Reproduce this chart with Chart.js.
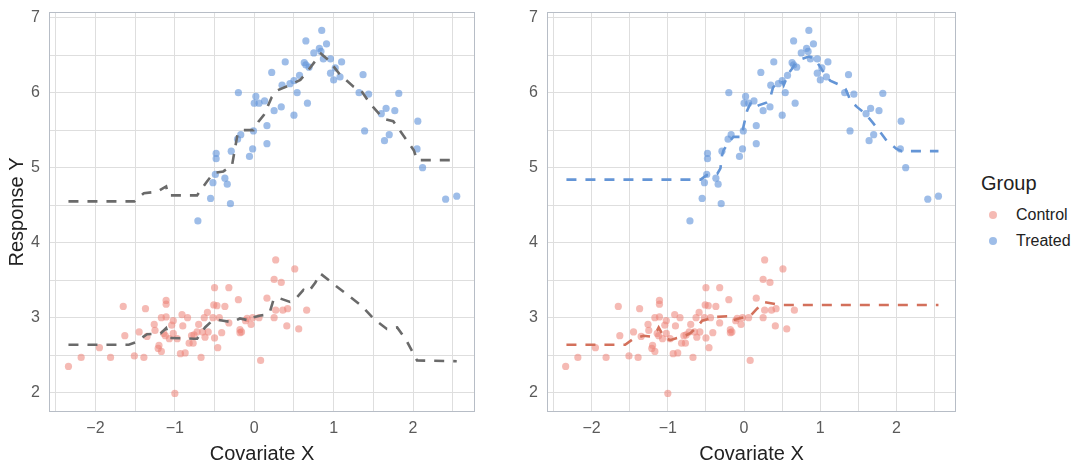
<!DOCTYPE html>
<html>
<head>
<meta charset="utf-8">
<script src="https://cdn.jsdelivr.net/npm/chart.js@4.4.1/dist/chart.umd.min.js"></script>
<style>
body{margin:0;background:#fff;width:1080px;height:466px;position:relative;overflow:hidden;font-family:"Liberation Sans",Arial,sans-serif}
canvas{position:absolute;top:0}
#leftChart{left:0}
#rightChart{left:480px}
#legend{position:absolute;left:981px;top:170px;color:#222}
#legend .ttl{font-size:20px;line-height:26px;margin-bottom:6px}
#legend .row{font-size:16px;height:26px;line-height:26px;position:relative;padding-left:35px}
#legend .dot{position:absolute;left:8px;top:9px;width:8px;height:8px;border-radius:50%}
</style>
</head>
<body>
<canvas id="leftChart" width="480" height="466"></canvas>
<canvas id="rightChart" width="480" height="466"></canvas>
<div id="legend"></div>
<script>
// observed points
const ctrlX=[-2.34,-2.18,-1.95,-1.81,-1.65,-1.63,-1.51,-1.45,-1.39,-1.37,-1.35,-1.26,-1.25,-1.21,-1.20,-1.17,-1.17,-1.14,-1.12,-1.11,-1.11,-1.11,-1.07,-1.04,-1.02,-1.02,-1.00,-0.97,-0.93,-0.91,-0.90,-0.87,-0.84,-0.82,-0.79,-0.77,-0.76,-0.72,-0.70,-0.67,-0.65,-0.63,-0.62,-0.59,-0.58,-0.52,-0.51,-0.50,-0.50,-0.47,-0.46,-0.44,-0.41,-0.37,-0.32,-0.32,-0.20,-0.18,-0.18,-0.16,-0.11,-0.09,-0.04,-0.02,0.06,0.08,0.16,0.25,0.25,0.27,0.27,0.34,0.36,0.42,0.41,0.51,0.56,0.66];
const ctrlY=[2.35,2.47,2.60,2.47,3.15,2.76,2.49,2.81,2.47,3.12,2.75,2.91,2.83,2.59,2.63,3.00,2.55,2.79,2.76,3.01,3.18,3.23,2.72,2.90,2.96,2.79,1.99,2.72,2.52,3.04,2.89,2.53,3.00,2.66,2.76,2.66,2.77,2.81,2.91,2.47,2.81,3.00,2.74,3.07,2.81,3.00,3.17,3.40,2.73,3.16,2.60,3.00,2.80,3.15,2.93,3.40,3.24,2.84,2.80,2.81,2.96,2.99,2.91,3.00,3.00,2.43,3.26,3.51,3.00,3.77,3.10,3.47,3.10,3.12,2.89,3.65,2.85,3.10];
const treatX=[-0.71,-0.55,-0.52,-0.49,-0.48,-0.48,-0.37,-0.34,-0.30,-0.29,-0.20,-0.21,-0.17,-0.06,-0.02,-0.01,0.00,0.02,0.06,0.13,0.16,0.16,0.22,0.25,0.34,0.35,0.39,0.45,0.50,0.50,0.54,0.57,0.63,0.65,0.65,0.67,0.69,0.75,0.82,0.84,0.85,0.87,0.91,0.96,0.96,1.00,1.02,1.08,1.10,1.32,1.37,1.39,1.44,1.60,1.64,1.66,1.70,1.77,1.82,2.06,2.05,2.12,2.41,2.55];
const treatY=[4.29,4.59,4.80,4.91,5.19,5.12,4.86,4.78,4.52,5.22,6.00,5.38,5.44,5.15,5.25,5.49,5.86,5.95,5.86,5.89,5.56,5.32,6.27,5.76,5.81,6.10,6.41,6.12,6.16,5.70,6.00,6.23,6.40,6.37,6.69,5.86,6.34,6.53,6.59,6.55,6.83,6.45,6.65,6.45,6.26,6.17,6.33,6.21,6.41,6.00,6.24,5.49,5.98,5.72,5.36,5.79,5.44,5.76,5.99,5.62,5.25,5.00,4.58,4.62];

// left panel: single pooled fit (grey dashed)
const poolCtrlX=[-2.34,-1.58,-1.50,-1.35,-1.18,-1.11,-1.07,-0.76,-0.72,-0.62,-0.53,-0.45,-0.39,-0.28,-0.18,-0.05,-0.03,0.08,0.16,0.20,0.24,0.29,0.45,0.52,0.62,0.68,0.77,0.83,0.94,1.02,1.35,1.50,1.67,1.80,1.92,2.05,2.55];
const poolCtrlY=[2.64,2.64,2.67,2.78,2.79,2.86,2.73,2.72,2.72,2.87,2.96,2.97,2.96,2.94,2.99,2.96,3.00,3.03,3.04,3.09,3.23,3.27,3.21,3.25,3.37,3.34,3.47,3.59,3.50,3.43,3.16,2.99,2.85,2.87,2.69,2.43,2.42];
const poolTreatX=[-2.34,-1.51,-1.39,-1.22,-1.11,-1.08,-0.72,-0.60,-0.51,-0.39,-0.28,-0.21,-0.15,-0.01,0.05,0.12,0.22,0.29,0.45,0.58,0.66,0.71,0.76,0.84,0.94,1.02,1.08,1.25,1.35,1.46,1.63,1.75,2.01,2.05,2.55];
const poolTreatY=[4.55,4.55,4.66,4.68,4.75,4.63,4.63,4.81,4.93,4.95,5.03,5.45,5.50,5.50,5.61,5.70,5.94,6.03,6.10,6.17,6.27,6.34,6.41,6.52,6.43,6.32,6.24,6.08,6.02,5.85,5.65,5.62,5.23,5.10,5.10];

// right panel: separate fits per group
const sepCtrlX=[-2.33,-1.56,-1.45,-1.32,-1.23,-1.14,-1.12,-1.05,-0.97,-0.88,-0.79,-0.71,-0.62,-0.55,-0.44,-0.38,-0.20,-0.16,-0.07,0.08,0.17,0.26,0.37,0.47,2.55];
const sepCtrlY=[2.64,2.64,2.72,2.76,2.75,2.83,2.87,2.74,2.70,2.73,2.75,2.79,2.87,2.96,2.99,3.01,3.02,2.96,2.99,3.02,3.12,3.21,3.19,3.17,3.17];
const sepTreatX=[-2.33,-0.57,-0.49,-0.40,-0.35,-0.31,-0.29,-0.27,-0.20,-0.14,-0.03,-0.01,0.04,0.09,0.15,0.19,0.30,0.34,0.38,0.43,0.50,0.52,0.58,0.63,0.67,0.76,0.85,0.93,1.00,1.07,1.13,1.26,1.33,1.37,1.39,1.48,1.59,1.68,1.79,1.87,2.00,2.07,2.55];
const sepTreatY=[4.84,4.84,4.90,4.90,4.92,4.99,5.16,5.23,5.34,5.41,5.41,5.54,5.76,5.87,5.81,5.83,5.87,5.92,6.07,6.12,6.16,6.10,6.25,6.32,6.39,6.45,6.48,6.45,6.34,6.23,6.16,6.10,6.05,5.96,5.90,5.81,5.72,5.61,5.47,5.36,5.25,5.22,5.22];

const groups=['Control','Treated'];
const xGrid=[-2.5,-2,-1.5,-1,-0.5,0,0.5,1,1.5,2,2.5];
const yGrid=[2,2.5,3,3.5,4,4.5,5,5.5,6,6.5,7];
const xLabels=[-2,-1,0,1,2];
const yLabels=[2,3,4,5,6,7];

const ctrlPt='rgba(236,130,118,0.55)', treatPt='rgba(98,148,218,0.62)';
const grey='#6a6a6a', ctrlLine='#d3705b', treatLine='#6495d6';

const pts=(xs,ys)=>xs.map((x,i)=>({x,y:ys[i]}));
const fmt=v=>v<0?'\u2212'+Math.abs(v):String(v);

const panelBorder={id:'panelBorder',afterDraw(c){const a=c.chartArea,g=c.ctx;g.save();g.strokeStyle='#b7bdc6';g.lineWidth=1;
  g.strokeRect(Math.round(a.left)+0.5,Math.round(a.top)+0.5,Math.round(a.right-a.left)-1,Math.round(a.bottom-a.top)-1);g.restore();}};

function scatterSet(label,data,color){return {label,data,backgroundColor:color,borderWidth:0,pointRadius:3.6,pointHoverRadius:3.6,order:2};}
function lineSet(label,data,color){return {label,data,showLine:true,borderColor:color,borderWidth:2.6,borderDash:[10,9],borderCapStyle:'butt',pointRadius:0,tension:0,fill:false,order:1};}

function makeChart(id,datasets,yWidth,yTitle,padRight){
  return new Chart(document.getElementById(id),{
    type:'scatter',
    data:{datasets},
    options:{
      responsive:false,animation:false,
      layout:{padding:{top:12,right:padRight,left:0,bottom:0}},
      plugins:{legend:{display:false},tooltip:{enabled:false}},
      scales:{
        x:{type:'linear',min:-2.585,max:2.78,
          afterBuildTicks:s=>{s.ticks=xGrid.map(v=>({value:v}));},
          afterFit:s=>{s.height=54;s.paddingLeft=0;s.paddingRight=0;},
          grid:{color:'#dedede',lineWidth:1,drawTicks:false},
          border:{display:false},
          ticks:{autoSkip:false,maxRotation:0,padding:7,color:'#5a5a5a',font:{family:'Liberation Sans',size:16},
            callback:v=>xLabels.includes(v)?fmt(v):''},
          title:{display:true,text:'Covariate X',color:'#222',font:{family:'Liberation Sans',size:20},padding:{top:0,bottom:0}}},
        y:{type:'linear',min:1.743,max:7.075,
          afterBuildTicks:s=>{s.ticks=yGrid.map(v=>({value:v}));},
          afterFit:s=>{s.width=yWidth;s.paddingTop=0;s.paddingBottom=0;},
          grid:{color:'#dedede',lineWidth:1,drawTicks:false},
          border:{display:false},
          ticks:{autoSkip:false,padding:9,color:'#5a5a5a',font:{family:'Liberation Sans',size:16},
            callback:v=>yLabels.includes(v)?fmt(v):''},
          title:{display:!!yTitle,text:yTitle||'',color:'#222',font:{family:'Liberation Sans',size:20},padding:{top:5,bottom:4}}}
      }
    },
    plugins:[panelBorder]
  });
}

makeChart('leftChart',[
  lineSet('pooled control fit',pts(poolCtrlX,poolCtrlY),grey),
  lineSet('pooled treated fit',pts(poolTreatX,poolTreatY),grey),
  scatterSet(groups[0],pts(ctrlX,ctrlY),ctrlPt),
  scatterSet(groups[1],pts(treatX,treatY),treatPt)
],49,'Response Y',5);

makeChart('rightChart',[
  lineSet('control fit',pts(sepCtrlX,sepCtrlY),ctrlLine),
  lineSet('treated fit',pts(sepTreatX,sepTreatY),treatLine),
  scatterSet(groups[0],pts(ctrlX,ctrlY),ctrlPt),
  scatterSet(groups[1],pts(treatX,treatY),treatPt)
],67,null,4);

// legend
const lg=document.getElementById('legend');
lg.innerHTML='<div class="ttl">Group</div>'+groups.map((g,i)=>`<div class="row"><span class="dot" style="background:${i?treatPt:ctrlPt}"></span>${g}</div>`).join('');
</script>
</body>
</html>
